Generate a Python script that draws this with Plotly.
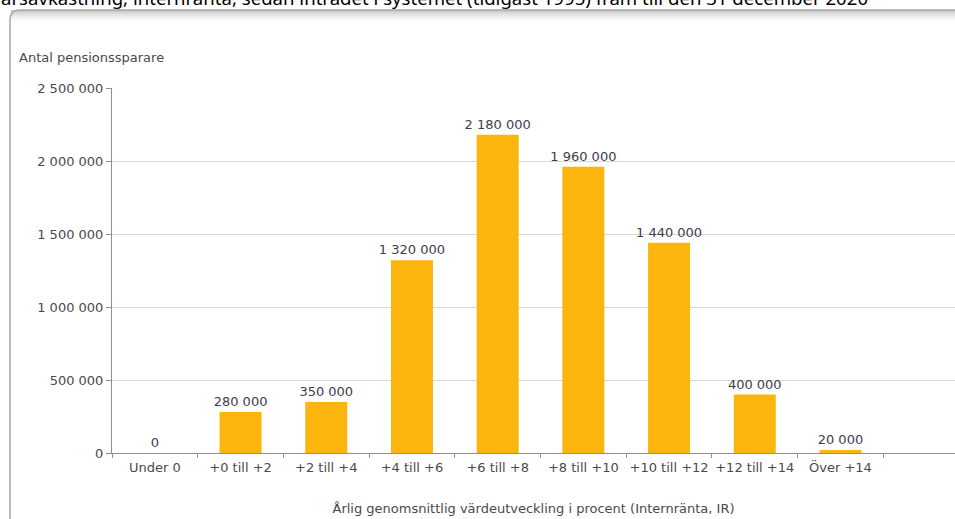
import plotly.graph_objects as go

categories = ["Under 0", "+0 till +2", "+2 till +4", "+4 till +6", "+6 till +8",
              "+8 till +10", "+10 till +12", "+12 till +14", "Över +14"]
values = [0, 280000, 350000, 1320000, 2180000, 1960000, 1440000, 400000, 20000]
value_labels = ["0", "280 000", "350 000", "1 320 000", "2 180 000",
                "1 960 000", "1 440 000", "400 000", "20 000"]
y_tickvals = [0, 500000, 1000000, 1500000, 2000000, 2500000]
y_ticktext = ["0", "500 000", "1 000 000", "1 500 000", "2 000 000", "2 500 000"]

W, H = 955, 519
L, R, T, B = 112, 0, 88, 66
pw = W - L - R
ph = H - T - B
cat_w = 85.7
FS = 13
TXT = "#4a4a4a"


def px(x):
    return (x - L) / pw


def py(y):
    return (H - B - y) / ph


fig = go.Figure()
fig.add_trace(go.Bar(
    x=categories, y=values, text=value_labels, textposition="outside",
    cliponaxis=False, constraintext="none",
    textfont=dict(family="DejaVu Sans", size=FS, color="#3d3d4d"),
    marker=dict(color="#FCB50F", line=dict(width=0)),
    width=0.49, hoverinfo="x+y",
))

# chart box with rounded top-left corner
x0, y0, r = px(10), py(10), 10
path = (f"M {x0},{py(540)} L {x0},{py(10 + r)} "
        f"Q {x0},{y0} {px(10 + r)},{y0} L {px(970)},{y0}")
shapes = []
for i, op in enumerate([0.06, 0.05, 0.04, 0.03, 0.02, 0.01]):
    shapes.append(dict(type="rect", xref="paper", yref="paper",
                       x0=px(11), x1=px(970), y0=py(12 + 2 * i), y1=py(10),
                       fillcolor="#000000", opacity=op, line=dict(width=0),
                       layer="below"))
shapes.append(dict(type="path", xref="paper", yref="paper", path=path,
                   line=dict(color="#a8a8a8", width=1.5), layer="below"))

annotations = [
    dict(text="årsavkastning, internränta, sedan inträdet i systemet (tidigast 1995) fram till den 31 december 2020",
         xref="paper", yref="paper", x=px(-1), y=py(12), xanchor="left", yanchor="bottom",
         showarrow=False, font=dict(family="Noto Sans", size=18.6, color="#000000")),
    dict(text="Antal pensionssparare", xref="paper", yref="paper",
         x=px(17), y=py(57), xanchor="left", yanchor="middle", showarrow=False,
         font=dict(family="DejaVu Sans", size=FS, color=TXT)),
]

fig.update_layout(
    width=W, height=H,
    margin=dict(l=L, r=R, t=T, b=B, pad=0),
    paper_bgcolor="white", plot_bgcolor="white",
    showlegend=False,
    shapes=shapes, annotations=annotations,
    font=dict(family="DejaVu Sans", size=FS, color=TXT),
    xaxis=dict(
        type="category", range=[-0.5, -0.5 + pw / cat_w],
        tickson="boundaries", ticks="outside", ticklen=4, tickcolor="#909090",
        showline=True, linecolor="#909090", linewidth=1, showgrid=False,
        tickangle=0, automargin=False, ticklabelstandoff=2,
        tickfont=dict(family="DejaVu Sans", size=FS, color=TXT),
        title=dict(text="Årlig genomsnittlig värdeutveckling i procent (Internränta, IR)",
                   font=dict(family="DejaVu Sans", size=FS, color=TXT), standoff=30),
    ),
    yaxis=dict(
        range=[0, 2500000], tickvals=y_tickvals, ticktext=y_ticktext,
        ticks="outside", ticklen=5, tickcolor="#909090",
        showline=True, linecolor="#909090", linewidth=1, automargin=False,
        showgrid=True, gridcolor="#d8d8d8", gridwidth=1, zeroline=False,
        tickfont=dict(family="DejaVu Sans", size=FS, color=TXT),
    ),
    bargap=0.5,
)

fig.write_html("out.html")
